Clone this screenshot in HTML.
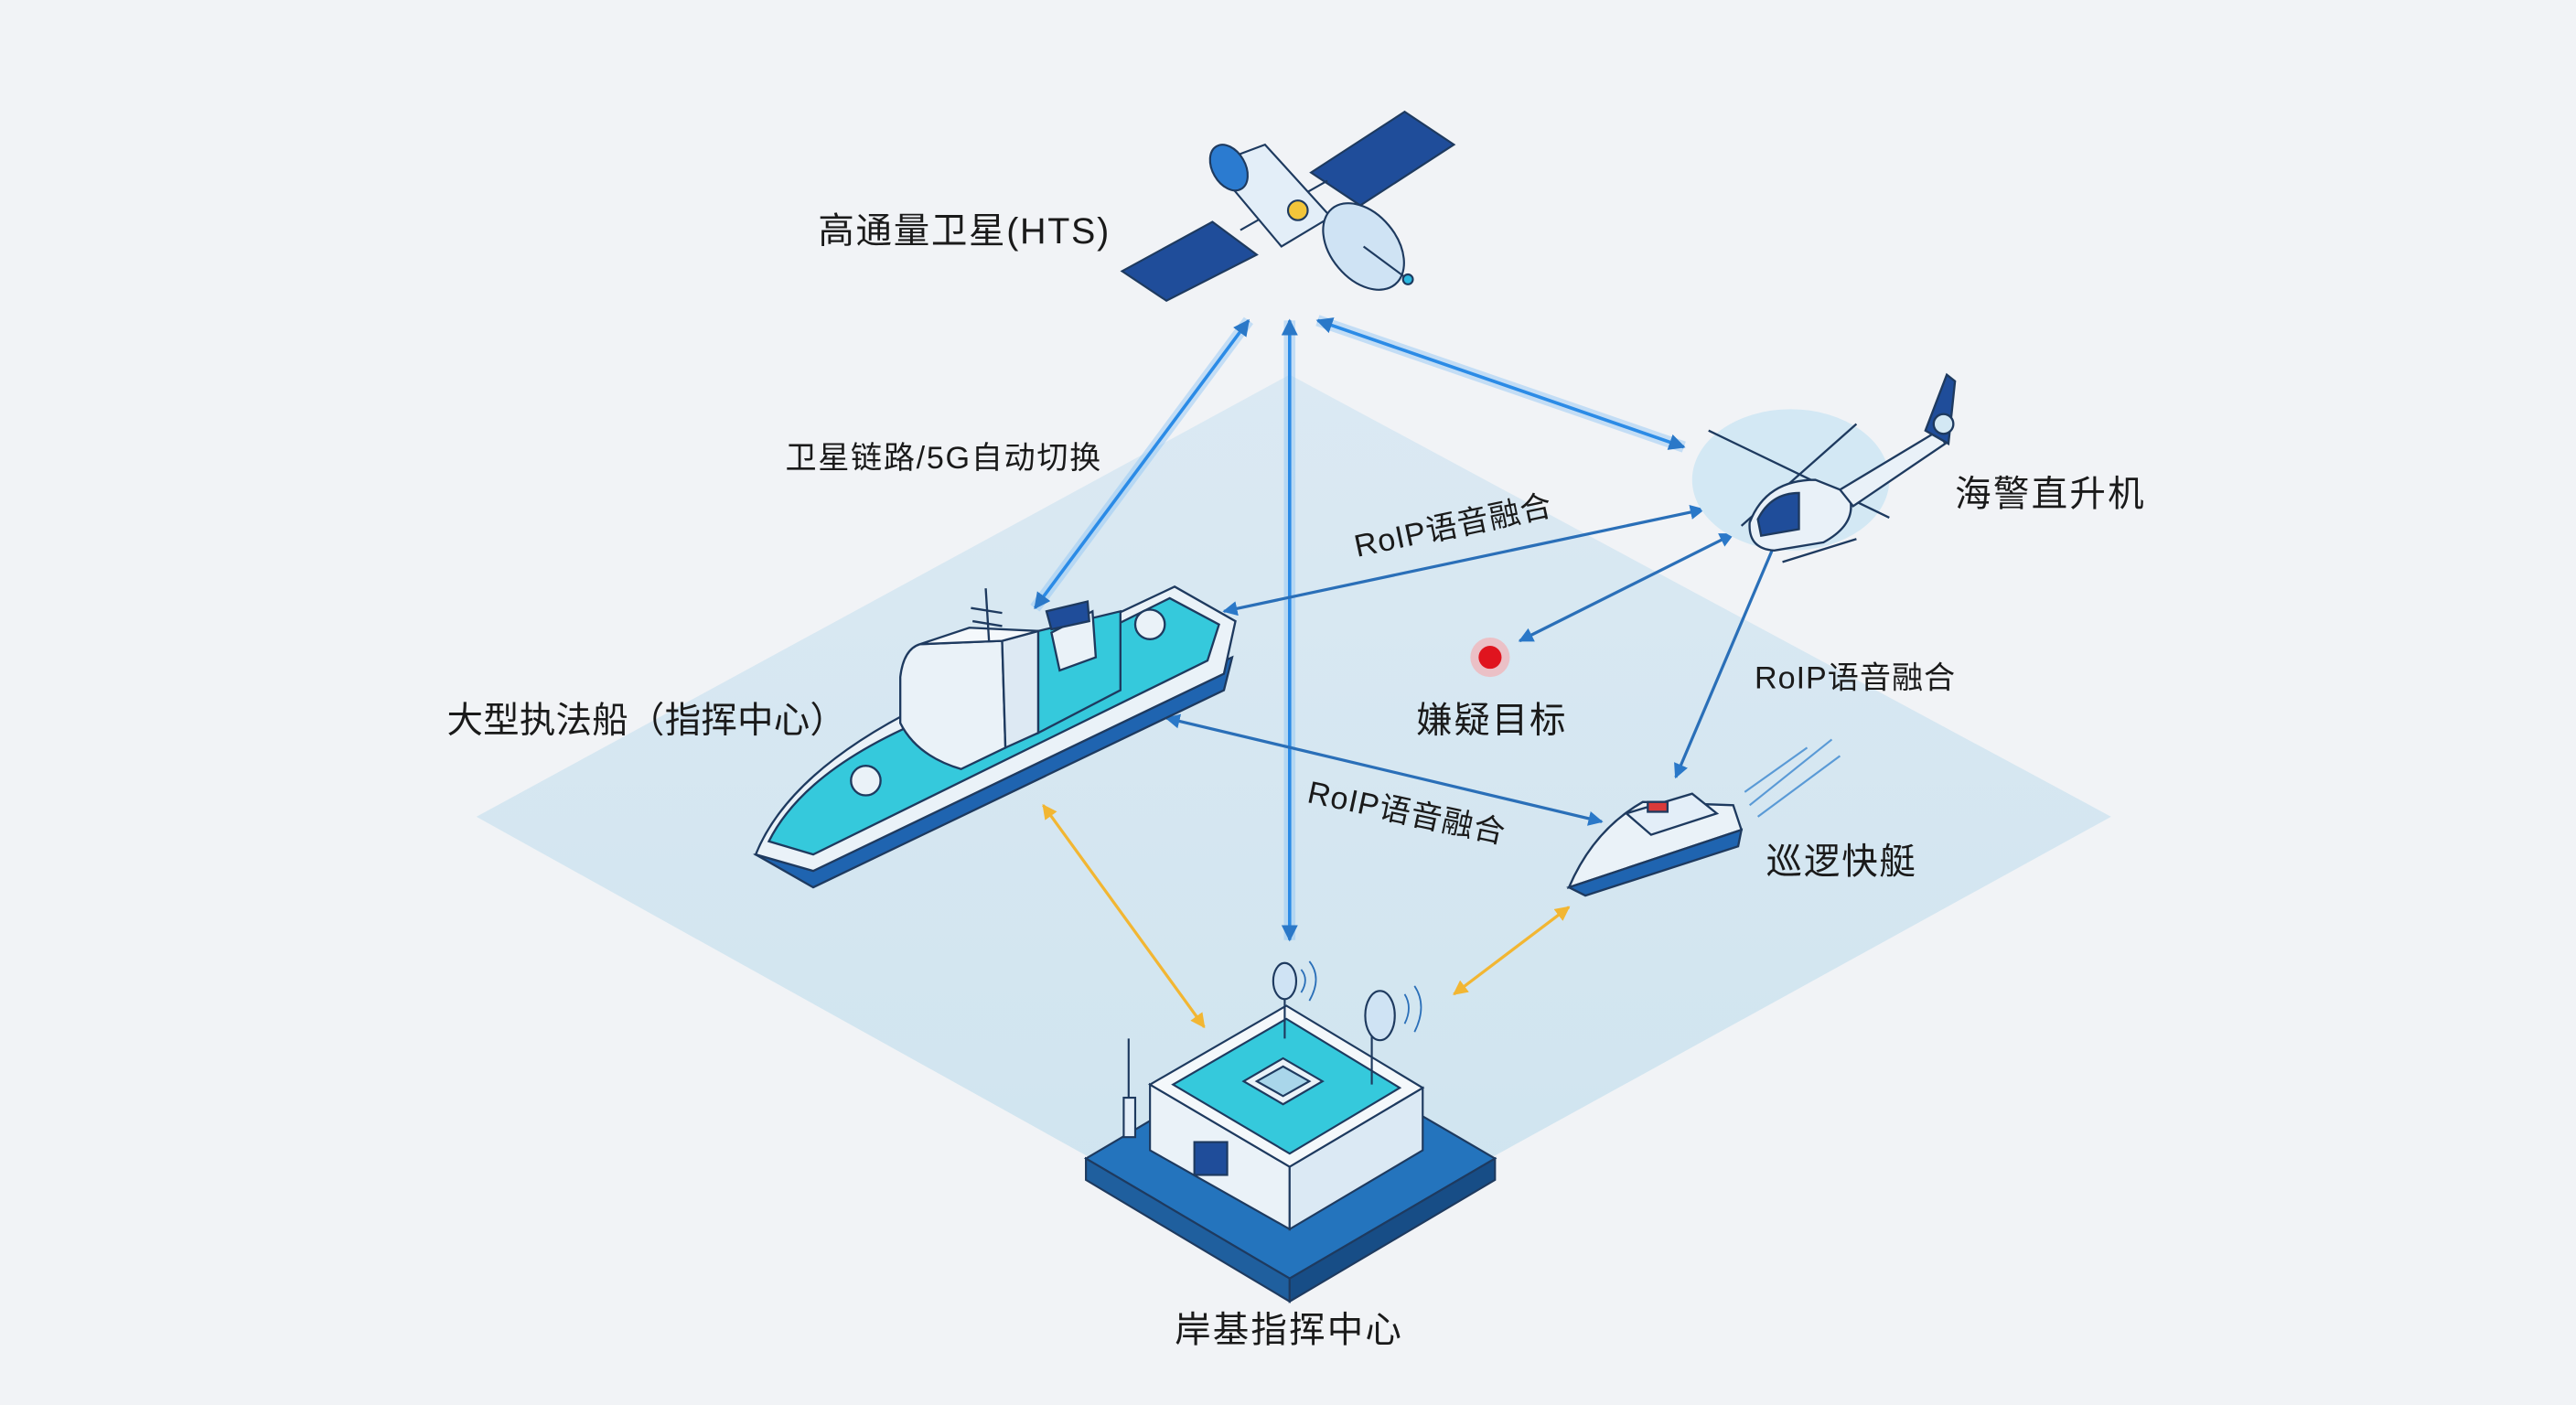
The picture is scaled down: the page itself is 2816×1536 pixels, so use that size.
<!DOCTYPE html>
<html><head><meta charset="utf-8"><style>
html,body{margin:0;padding:0;background:#f1f3f6;}
svg{display:block}
text{font-family:"Liberation Sans","Noto Sans CJK SC",sans-serif;fill:#1a1a1a;}
</style></head><body>
<svg width="2816" height="1536" viewBox="0 0 1568 855" preserveAspectRatio="none" xmlns="http://www.w3.org/2000/svg">
<defs>
<marker id="ab" viewBox="0 0 10 10" refX="9" refY="5" markerWidth="5" markerHeight="5" orient="auto-start-reverse"><path d="M0,0 L10,5 L0,10 z" fill="#2a78c8"/></marker>
<marker id="ay" viewBox="0 0 10 10" refX="9" refY="5" markerWidth="5" markerHeight="5" orient="auto-start-reverse"><path d="M0,0 L10,5 L0,10 z" fill="#f2b632"/></marker>
<linearGradient id="pl" x1="0" y1="0" x2="0" y2="1"><stop offset="0" stop-color="#dbe9f3"/><stop offset="1" stop-color="#cfe4ef"/></linearGradient>
</defs>
<rect width="1568" height="855" fill="#f1f3f6"/>
<polygon points="290,497 785,228 1285,497 785,772" fill="url(#pl)"/>

<g stroke="#8cc4f5" stroke-width="7" opacity="0.45" fill="none">
<line x1="760" y1="195" x2="630" y2="370"/><line x1="785" y1="195" x2="785" y2="572"/><line x1="802" y1="195" x2="1025" y2="272"/>
</g>
<g stroke="#2b8be6" stroke-width="2" fill="none">
<line x1="760" y1="195" x2="630" y2="370" marker-start="url(#ab)" marker-end="url(#ab)"/>
<line x1="785" y1="195" x2="785" y2="572" marker-start="url(#ab)" marker-end="url(#ab)"/>
<line x1="802" y1="195" x2="1025" y2="272" marker-start="url(#ab)" marker-end="url(#ab)"/>
</g>
<g stroke="#2a6fb8" stroke-width="1.8" fill="none">
<line x1="745" y1="372" x2="1037" y2="310" marker-start="url(#ab)" marker-end="url(#ab)"/>
<line x1="925" y1="390" x2="1055" y2="325" marker-start="url(#ab)" marker-end="url(#ab)"/>
<line x1="1085" y1="320" x2="1020" y2="473" marker-start="url(#ab)" marker-end="url(#ab)"/>
<line x1="710" y1="437" x2="975" y2="500" marker-start="url(#ab)" marker-end="url(#ab)"/>
</g>
<g stroke="#f2b632" stroke-width="1.8" fill="none">
<line x1="635" y1="490" x2="733" y2="625" marker-start="url(#ay)" marker-end="url(#ay)"/>
<line x1="955" y1="552" x2="885" y2="605" marker-start="url(#ay)" marker-end="url(#ay)"/>
</g>

<!-- satellite -->
<g stroke="#1e3a5f" stroke-width="1.2">
<polygon points="683,165 738,135 765,155 710,183" fill="#1f4d9a"/>
<polygon points="798,105 855,68 885,88 828,125" fill="#1f4d9a"/>
<line x1="755" y1="140" x2="808" y2="110"/>
<polygon points="738,100 770,88 810,132 780,150" fill="#e3eef8"/>
<ellipse cx="748" cy="102" rx="10" ry="15" fill="#2b7bd0" transform="rotate(-30 748 102)"/>
<ellipse cx="830" cy="150" rx="20" ry="30" fill="#cfe3f4" transform="rotate(-40 830 150)"/>
<circle cx="790" cy="128" r="6" fill="#f2c53a"/>
<line x1="830" y1="150" x2="857" y2="170"/><circle cx="857" cy="170" r="3" fill="#2bb8e0"/>
</g>

<!-- helicopter -->
<ellipse cx="1090" cy="292" rx="60" ry="43" fill="#d3e8f4"/>
<g stroke="#1e3a5f" stroke-width="1.3">
<line x1="1040" y1="262" x2="1150" y2="315"/><line x1="1060" y1="320" x2="1130" y2="258"/>
<path d="M1065,318 Q1075,292 1105,292 L1125,300 Q1132,318 1110,330 L1080,335 Q1064,334 1065,318z" fill="#e9f1f8"/>
<path d="M1070,316 Q1078,300 1095,300 L1095,322 L1072,326z" fill="#1f4d9a"/>
<path d="M1120,298 L1180,262 L1184,270 L1128,308z" fill="#e9f1f8"/>
<path d="M1172,262 L1185,228 L1190,232 L1186,270z" fill="#1f4d9a"/>
<circle cx="1183" cy="258" r="6" fill="#d3e8f4"/>
<line x1="1085" y1="342" x2="1130" y2="328"/>
</g>

<!-- ship -->
<g stroke="#1e3a5f" stroke-width="1.3">
<polygon points="460,520 495,540 745,420 750,400 500,510" fill="#1f64b0"/>
<path d="M460,520 Q480,470 560,430 L715,357 L752,378 L745,410 L495,530z" fill="#eaf2f8"/>
<path d="M468,512 Q490,468 565,437 L712,364 L742,380 L735,402 L495,520z" fill="#35c9dc"/>
<path d="M548,412 Q550,395 560,392 L610,390 L612,455 L585,468 Q558,460 548,440z" fill="#eaf2f8"/>
<polygon points="610,390 632,384 632,446 612,455" fill="#dde9f3"/>
<polygon points="560,392 590,382 632,384 610,390" fill="#f4f8fb"/>
<polygon points="632,384 682,372 682,420 632,446" fill="#35c9dc"/>
<polygon points="640,385 665,372 667,400 645,408" fill="#eaf2f8"/>
<polygon points="637,372 662,366 663,378 640,383" fill="#1f4d9a"/>
<line x1="600" y1="358" x2="602" y2="390"/><line x1="591" y1="370" x2="610" y2="373"/><line x1="592" y1="378" x2="610" y2="381"/>
<circle cx="700" cy="380" r="9" fill="#eaf2f8"/><circle cx="527" cy="475" r="9" fill="#eaf2f8"/>
</g>

<!-- boat -->
<g stroke="#1e3a5f" stroke-width="1.3">
<path d="M955,540 L1060,505 L1055,490 L1000,488 Q970,505 955,540z" fill="#eaf2f8"/>
<path d="M955,540 L1060,505 L1058,515 L965,545z" fill="#1f64b0"/>
<polygon points="990,495 1030,483 1045,495 1005,508" fill="#e3eef8"/>
<rect x="1003" y="488" width="12" height="6" fill="#d93a3a"/>
</g>
<g stroke="#5a9ad6" stroke-width="1.2"><line x1="1065" y1="490" x2="1115" y2="450"/><line x1="1070" y1="497" x2="1120" y2="460"/><line x1="1062" y1="482" x2="1100" y2="455"/></g>

<!-- building -->
<g stroke="#1e3a5f" stroke-width="1.2">
<polygon points="661,705 785,632 910,705 785,778" fill="#2474bd"/>
<polygon points="661,705 785,778 785,792 661,718" fill="#1f5f9e"/>
<polygon points="785,778 910,705 910,718 785,792" fill="#174d86"/>
<polygon points="700,660 785,710 785,748 700,700" fill="#eaf2f8"/>
<polygon points="785,710 866,662 866,700 785,748" fill="#dbe9f4"/>
<polygon points="700,660 783,612 866,662 785,710" fill="#f4f8fb"/>
<polygon points="714,660 783,620 852,662 785,702" fill="#35c9dc"/>
<polygon points="757,658 781,644 805,658 781,672" fill="#eaf2f8"/>
<polygon points="765,658 781,649 797,658 781,667" fill="#a9d6ea"/>
<rect x="727" y="695" width="20" height="20" fill="#1f4d9a"/>
<line x1="782" y1="600" x2="782" y2="632"/><line x1="835" y1="622" x2="835" y2="660"/>
<ellipse cx="782" cy="597" rx="7" ry="11" fill="#cfe3f4"/><ellipse cx="840" cy="618" rx="9" ry="15" fill="#cfe3f4"/>
<line x1="687" y1="632" x2="687" y2="692"/><rect x="684" y="668" width="7" height="24" fill="#e3eef8"/>
</g>
<g stroke="#2a6fb8" fill="none" stroke-width="1"><path d="M792,590 q5,6 0,14"/><path d="M797,585 q8,10 0,24"/><path d="M855,605 q5,8 0,18"/><path d="M861,600 q8,12 0,28"/></g>

<circle cx="907" cy="400" r="12" fill="#ff9a9a" opacity="0.5"/>
<circle cx="907" cy="400" r="7" fill="#e0141e"/>

<text x="498" y="148" font-size="22" textLength="177">高通量卫星(HTS)</text>
<text x="478" y="285" font-size="19" textLength="192">卫星链路/5G自动切换</text>
<text x="1190" y="308" font-size="22" textLength="115">海警直升机</text>
<text x="272" y="446" font-size="22" textLength="243">大型执法船（指挥中心）</text>
<text x="862" y="446" font-size="22" textLength="91">嫌疑目标</text>
<text x="1075" y="532" font-size="22" textLength="91">巡逻快艇</text>
<text x="715" y="817" font-size="22" textLength="138">岸基指挥中心</text>
<text x="1068" y="419" font-size="19" textLength="122">RoIP语音融合</text>
<text x="0" y="0" font-size="19" textLength="122" transform="translate(826,339) rotate(-12)">RoIP语音融合</text>
<text x="0" y="0" font-size="19" textLength="122" transform="translate(795,488) rotate(12)">RoIP语音融合</text>
</svg>
</body></html>
